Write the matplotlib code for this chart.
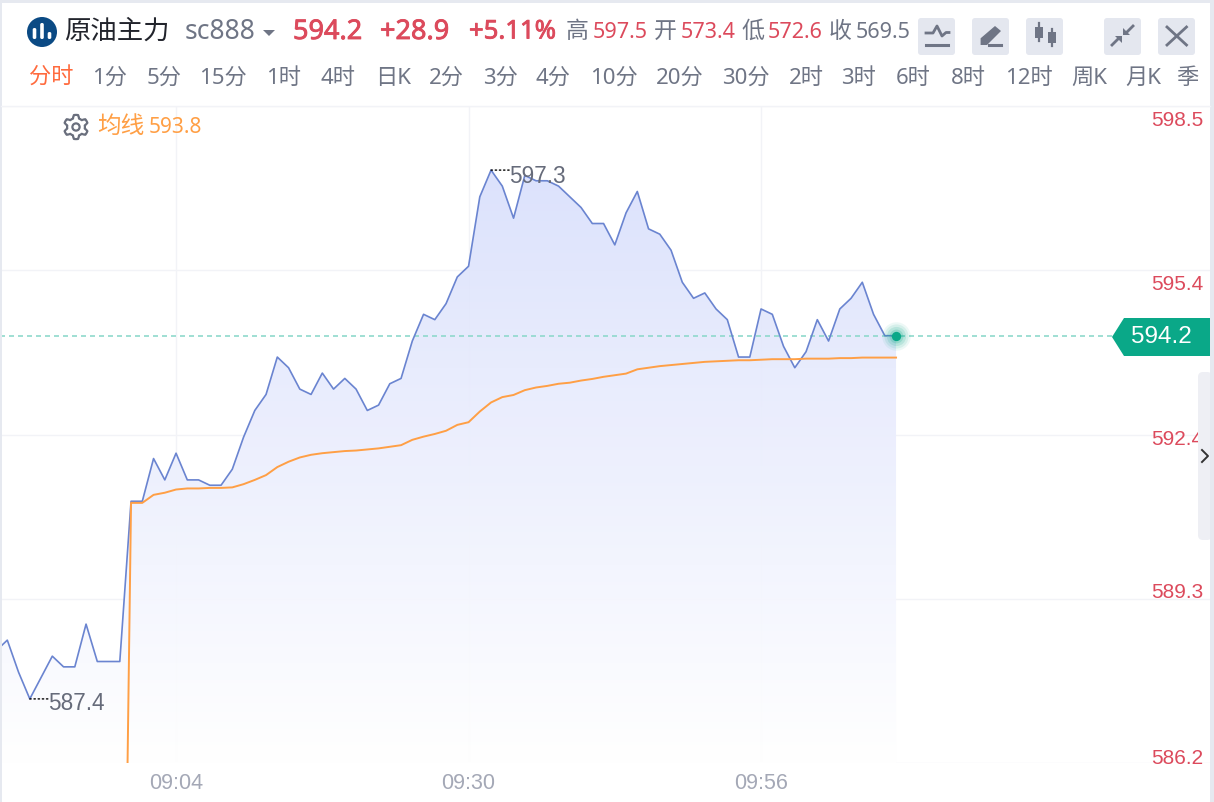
import numpy as np
import matplotlib
matplotlib.use('Agg')
import matplotlib.pyplot as plt
import matplotlib.patheffects as pe
from matplotlib.patches import FancyBboxPatch, Polygon, Circle

plt.rcParams['font.family'] = ['Noto Sans', 'Noto Sans CJK SC', 'DejaVu Sans']

# first point sits just off the left edge of the chart
price = [588.3, 588.5, 587.9, 587.4, 587.8, 588.2, 588.0, 588.0, 588.8, 588.1, 588.1, 588.1,
         591.1, 591.1, 591.9, 591.5, 592.0, 591.5, 591.5, 591.4, 591.4, 591.7, 592.3, 592.8,
         593.1, 593.8, 593.6, 593.2, 593.1, 593.5, 593.2, 593.4, 593.2, 592.8, 592.9, 593.3,
         593.4, 594.1, 594.6, 594.5, 594.8, 595.3, 595.5, 596.8, 597.3, 597.0, 596.4, 597.2,
         597.1, 597.1, 597.0, 596.8, 596.6, 596.3, 596.3, 595.9, 596.5, 596.9, 596.2, 596.1,
         595.8, 595.2, 594.9, 595.0, 594.7, 594.5, 593.8, 593.8, 594.7, 594.6, 594.0, 593.6,
         593.9, 594.5, 594.1, 594.7, 594.9, 595.2, 594.6, 594.2, 594.2]

# average line only starts at index 11, its first value is far below the axis
avg_start = 11
avg = [575.4, 591.07, 591.07, 591.22, 591.26, 591.32, 591.34, 591.34, 591.35, 591.35, 591.36,
       591.42, 591.50, 591.59, 591.74, 591.84, 591.92, 591.97, 592.00, 592.02, 592.04, 592.05,
       592.07, 592.09, 592.12, 592.15, 592.25, 592.31, 592.36, 592.42, 592.53, 592.58, 592.78,
       592.95, 593.05, 593.09, 593.18, 593.23, 593.26, 593.30, 593.32, 593.36, 593.39, 593.43,
       593.46, 593.49, 593.57, 593.60, 593.63, 593.65, 593.67, 593.69, 593.71, 593.72, 593.73,
       593.74, 593.74, 593.75, 593.76, 593.76, 593.76, 593.77, 593.77, 593.77, 593.78, 593.78,
       593.79, 593.79, 593.79, 593.79]

time_idx = [16, 42, 68]
time_labels = ['09:04', '09:30', '09:56']

y_ticks = [598.5, 595.425, 592.35, 589.275, 586.2]
y_labels = ['598.5', '595.4', '592.4', '589.3', '586.2']
y_label_shift = [-14, -14, -5, 6, 5]

periods = ['分时', '1分', '5分', '15分', '1时', '4时', '日K', '2分', '3分', '4分', '10分', '20分',
           '30分', '2时', '3时', '6时', '8时', '12时', '周K', '月K', '季']
period_x = [51, 110, 164, 223, 284, 338, 393, 446, 500, 553, 614, 680, 746, 806, 859, 913, 968,
            1029, 1089, 1143, 1187]

W, H = 1214, 802
GREY = '#6f7585'
RED = '#dc4a5c'
BLUE = '#6a84d0'
ORANGE = '#ff9f45'
GREEN = '#0aa888'
GRID = '#f2f3f7'

fig = plt.figure(figsize=(W / 100, H / 100), dpi=100, facecolor='white')

# chart area, in px: x 0..1210, y 106..763
ax = fig.add_axes([0, (H - 763) / H, 1210 / W, 657 / H])
xs = np.arange(len(price))
ax.patch.set_alpha(0)
for s in ax.spines.values():
    s.set_visible(False)

ax.set_yticks(y_ticks)
ax.set_yticklabels([])
ax.set_xticks(time_idx)
ax.set_xticklabels(time_labels, family=['Liberation Sans'], fontsize=15.5, color='#a4a8b6')
ax.tick_params(length=0, pad=7.5)
ax.grid(True, color=GRID, lw=1.0, zorder=0)
ax.set_axisbelow(True)

# gradient under the price line
grad = np.linspace(0, 1, 256).reshape(-1, 1, 1)
c_top = np.array([219, 225, 252]).reshape(1, 1, 3) / 255
c_bot = np.array([255, 255, 255]).reshape(1, 1, 3) / 255
rgba = np.zeros((256, 1, 4))
rgba[..., :3] = c_top + (c_bot - c_top) * grad
rgba[..., 3] = 0.95
ymax = max(price)
im = ax.imshow(rgba, extent=[xs[0], xs[-1], 586.2, ymax], aspect='auto', zorder=1)
poly = ax.fill_between(xs, price, 586.2, color='none')
im.set_clip_path(poly.get_paths()[0], transform=ax.transData)
ax.set_xlim(1 - 7.3 / 11.25, 1 + (1210 - 7.3) / 11.25)
ax.set_ylim(586.2, 598.5)

ax.axhline(price[-1], color='#8fd9cc', lw=1.2, ls=(0, (3, 2.4)), zorder=2)
ax.plot(xs, price, color=BLUE, lw=1.2, zorder=3)
ax_avg = np.arange(len(avg)) + avg_start
ax.plot(ax_avg, avg, color=ORANGE, lw=1.4, zorder=4)

# glow on the last point
for r, a in [(420, 0.07), (300, 0.10), (190, 0.14), (100, 0.20)]:
    ax.scatter(xs[-1], price[-1], s=r, color=GREEN, alpha=a, lw=0, zorder=5)
ax.scatter(xs[-1], price[-1], s=45, color=GREEN, lw=0, zorder=6)

# high / low labels
for idx, off in [(int(np.argmax(price)), (13, -4.5)), (int(np.argmin(price)), (13, -3.5))]:
    ax.annotate('', xy=(xs[idx], price[idx]), xytext=(off[0], 0), textcoords='offset points',
                arrowprops=dict(arrowstyle='-', color='black', lw=1, ls=(0, (1, 2)), shrinkA=0, shrinkB=0), zorder=7)
    ax.annotate('%.1f' % price[idx], xy=(xs[idx], price[idx]), xytext=off, textcoords='offset points',
                family=['Liberation Sans'], fontsize=16.3, color='#666b7a', va='center', ha='left', zorder=7)

# y labels sit inside the plot, shifted off their gridline
for t, lab, sh in zip(y_ticks, y_labels, y_label_shift):
    ax.annotate(lab, xy=(1, t), xycoords=ax.get_yaxis_transform(), xytext=(-5, sh * 0.72),
                textcoords='offset points', ha='right', va='center', fontsize=15,
                family=['Liberation Sans'], color=RED, zorder=7)

# overlay in pixel coordinates for the page furniture
ui = fig.add_axes([0, 0, 1, 1], facecolor='none')
ui.set_xlim(0, W)
ui.set_ylim(H, 0)
ui.axis('off')

ui.add_patch(plt.Rectangle((0, 0), W, 3, color='#e6e9f0', lw=0))
ui.add_patch(plt.Rectangle((0, 0), 1.5, H, color='#e6e9f0', lw=0))
ui.add_patch(plt.Rectangle((1210, 0), 4, H, color='#e6e9f0', lw=0))
ui.plot([1, 1210], [106, 106], color=GRID, lw=1.0)


def head(x, y, s, size, color, **kw):
    return ui.text(x, y, s, fontsize=size, color=color, va='center', ha='left', **kw)


# header logo
ui.add_patch(Circle((42, 32), 15, color='#0b4a84', lw=0))
for bx, top in [(34.5, 28), (42, 23), (49.5, 32)]:
    ui.add_patch(FancyBboxPatch((bx - 1.8, top), 3.6, 39 - top, boxstyle='round,pad=0,rounding_size=1.6',
                                color='white', lw=0))

head(64, 32, '原油主力', 19, '#22242c')
head(185, 32, 'sc888', 19, GREY)
ui.add_patch(Polygon([[263, 30], [275, 30], [269, 36]], color=GREY, lw=0))
# the quote figures are a little heavier than the regular weight
for px, lab, size in [(293, '594.2', 19.5), (380, '+28.9', 19.5), (469, '+5.11%', 18.5)]:
    t = head(px, 32, lab, size, RED)
    t.set_path_effects([pe.withStroke(linewidth=0.6, foreground=RED)])
head(566, 32, '高', 16.5, GREY)
head(593, 32.5, '597.5', 15.5, RED)
head(654, 32, '开', 16.5, GREY)
head(681, 32.5, '573.4', 15.5, RED)
head(741, 32, '低', 16.5, GREY)
head(768, 32.5, '572.6', 15.5, RED)
head(829, 32, '收', 16.5, GREY)
head(856, 32.5, '569.5', 15.5, GREY)

for i, (lab, px) in enumerate(zip(periods, period_x)):
    col = '#ff6a3d' if i == 0 else GREY
    ui.text(px, 78.5, lab, fontsize=16, color=col, ha='center', va='center')

# toolbar buttons
for bx in [918, 972, 1026, 1104, 1158]:
    ui.add_patch(FancyBboxPatch((bx, 18), 37, 37, boxstyle='round,pad=0,rounding_size=3', color='#e4e7ef', lw=0))
# line icon
ui.plot([926, 933, 937, 942, 946, 949], [33, 33, 26, 36, 32.5, 32.5], color=GREY, lw=2)
ui.plot([926, 948], [44.5, 44.5], color=GREY, lw=2.2)
# pencil icon
ui.add_patch(Polygon([[995, 26], [1001, 31], [987, 45], [980.6, 45], [980.6, 38.3]], color=GREY, lw=0))
ui.plot([989, 1001], [44.5, 44.5], color=GREY, lw=2.2)
# candle icon
ui.plot([1039, 1039], [23, 41], color=GREY, lw=1.6)
ui.plot([1051.5, 1051.5], [29, 46], color=GREY, lw=1.6)
ui.add_patch(plt.Rectangle((1035, 27), 8, 11, color=GREY, lw=0))
ui.add_patch(plt.Rectangle((1047.5, 32), 8, 11, color=GREY, lw=0))
# shrink icon
ui.plot([1133, 1126], [26, 33], color=GREY, lw=2)
ui.add_patch(Polygon([[1123, 28], [1130, 35], [1123, 35]], color=GREY, lw=0))
ui.plot([1112, 1119], [45, 38], color=GREY, lw=2)
ui.add_patch(Polygon([[1115, 36], [1122, 36], [1122, 43]], color=GREY, lw=0))
# close icon
ui.plot([1167, 1186.5], [27, 45], color=GREY, lw=2)
ui.plot([1186.5, 1167], [27, 45], color=GREY, lw=2)

# gear + average legend
gear_ang = np.linspace(0, 2 * np.pi, 72, endpoint=False) + np.pi / 6
gear_r = 10.5 + 1.6 * np.clip(2.2 * np.cos(6 * gear_ang), -1, 1)
ui.add_patch(Polygon(np.c_[76 + gear_r * np.sin(gear_ang), 127 + gear_r * np.cos(gear_ang)],
                     fill=False, ec='#6a6f7d', lw=1.6, joinstyle='round'))
ui.add_patch(Circle((76, 127), 3.6, fill=False, ec='#6a6f7d', lw=1.6))
head(97, 127, '均线', 17, ORANGE)
head(149, 127.5, '593.8', 15, ORANGE)

# current price tag
ui.add_patch(Polygon([[1112, 337], [1124, 318], [1210, 318], [1210, 356], [1124, 356]], color=GREEN, lw=0))
ui.text(1161, 337, '594.2', fontsize=17.5, color='white', ha='center', va='center', family=['Liberation Sans'])

# collapse handle, covers the end of the 592.4 label
ui.add_patch(FancyBboxPatch((1198, 372), 14, 168, boxstyle='round,pad=0,rounding_size=5', color='#eeeff4', lw=0))
ui.plot([1202, 1208, 1202], [450, 456, 462], color='#333', lw=1.4)
ui.add_patch(plt.Rectangle((1210, 360), 4, 200, color='#e6e9f0', lw=0))

fig.savefig('out.png', dpi=100)
